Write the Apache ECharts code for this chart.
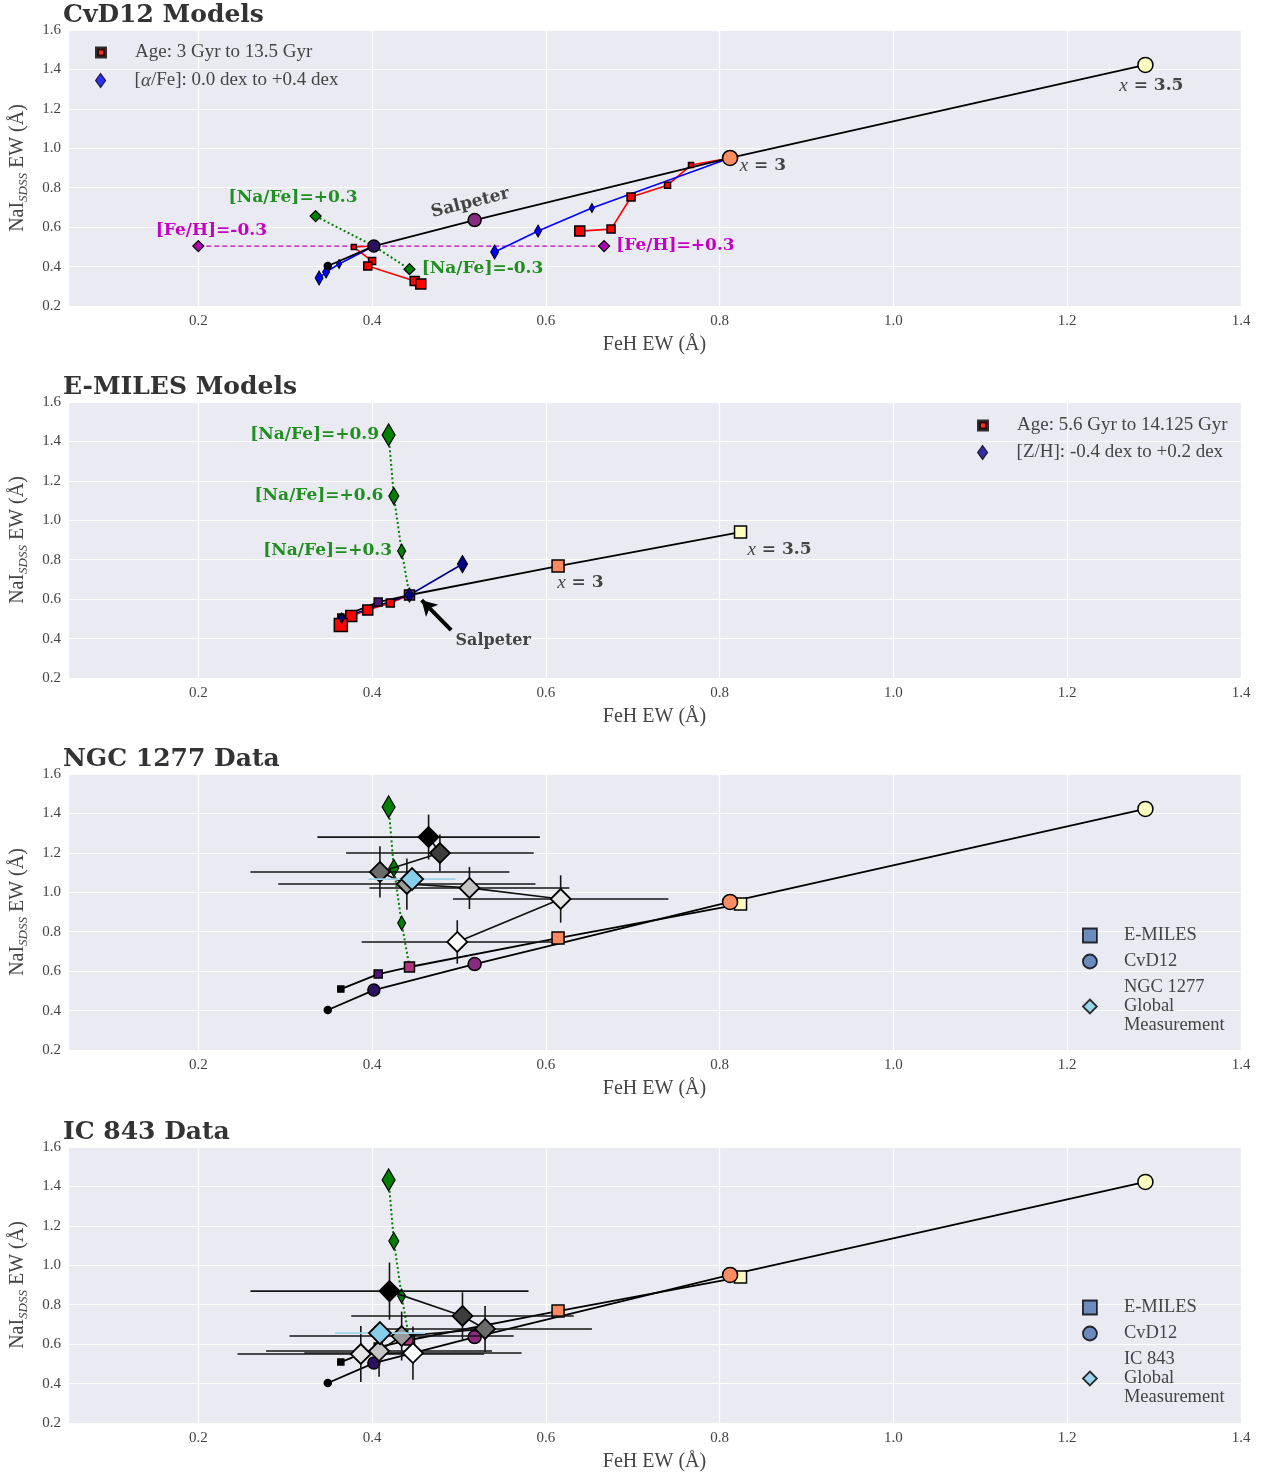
<!DOCTYPE html>
<html>
<head>
<meta charset="utf-8">
<script src="https://cdn.jsdelivr.net/npm/echarts@6/dist/echarts.min.js"></script>
<style>
  html, body { margin: 0; background: #fff; }
  #chart { width: 1268px; height: 1475px; }
</style>
</head>
<body>
<div id="chart"></div>
<script>
// ---- CvD12 model grid (FeH EW, NaI EW) ----
const cvdImfFeH = [0.349, 0.402, 0.518, 0.812, 1.290]
const cvdImfNaI = [0.403, 0.504, 0.636, 0.951, 1.423]
const cvdAgeSalFeH = [0.402, 0.379, 0.400, 0.395, 0.449, 0.456]
const cvdAgeSalNaI = [0.504, 0.499, 0.428, 0.403, 0.327, 0.312]
const cvdAgeX3FeH = [0.812, 0.767, 0.740, 0.698, 0.675, 0.639]
const cvdAgeX3NaI = [0.951, 0.915, 0.813, 0.753, 0.590, 0.580]
const cvdAlphaSalFeH = [0.402, 0.362, 0.347, 0.339]
const cvdAlphaSalNaI = [0.504, 0.413, 0.372, 0.342]
const cvdAlphaX3FeH = [0.812, 0.653, 0.591, 0.541]
const cvdAlphaX3NaI = [0.951, 0.697, 0.580, 0.474]
const cvdFeHFeH = [0.200, 0.667]
const cvdFeHNaI = [0.504, 0.504]
const cvdNaFeH = [0.335, 0.402, 0.443]
const cvdNaNaI = [0.656, 0.504, 0.387]

// ---- E-MILES model grid ----
const emImfFeH = [0.364, 0.407, 0.443, 0.614, 0.824]
const emImfNaI = [0.509, 0.585, 0.621, 0.768, 0.940]
const emAgeFeH = [0.443, 0.421, 0.395, 0.376, 0.364]
const emAgeNaI = [0.621, 0.580, 0.545, 0.514, 0.469]
const emZFeH = [0.365, 0.443, 0.504]
const emZNaI = [0.504, 0.621, 0.778]
const emNaFeH = [0.443, 0.434, 0.425, 0.419]
const emNaNaI = [0.621, 0.844, 1.123, 1.433]

// ---- NGC 1277 radial bins + global ----
const ngcFeH = [0.498, 0.617, 0.512, 0.440, 0.409, 0.478, 0.465]
const ngcFeHErr = [0.110, 0.124, 0.115, 0.148, 0.149, 0.108, 0.128]
const ngcNaI = [0.748, 0.966, 1.022, 1.042, 1.103, 1.199, 1.280]
const ngcNaIErr = [0.110, 0.120, 0.107, 0.130, 0.130, 0.094, 0.114]
const ngcGlobal = [0.446, 1.067, 0.050, 0.0]

// ---- IC 843 radial bins + global ----
const icFeH = [0.447, 0.387, 0.408, 0.434, 0.530, 0.504, 0.420]
const icFeHErr = [0.125, 0.142, 0.130, 0.129, 0.123, 0.128, 0.160]
const icNaI = [0.555, 0.550, 0.565, 0.641, 0.677, 0.743, 0.869]
const icNaIErr = [0.135, 0.142, 0.130, 0.124, 0.117, 0.120, 0.145]
const icGlobal = [0.409, 0.656, 0.052, 0.0]

// ---- annotations: [FeH, NaI, text] ----
const cvdNotes = [
  [0.309, 0.748, '[Na/Fe]=+0.3'],
  [0.457, 0.392, '[Na/Fe]=-0.3'],
  [0.215, 0.585, '[Fe/H]=-0.3'],
  [0.681, 0.504, '[Fe/H]=+0.3'],
  [0.513, 0.722, 'Salpeter'],
  [0.823, 0.910, '{i|x} = 3'],
  [1.260, 1.316, '{i|x} = 3.5'],
]
const emNotes = [
  [0.408, 1.433, '[Na/Fe]=+0.9'],
  [0.413, 1.123, '[Na/Fe]=+0.6'],
  [0.423, 0.844, '[Na/Fe]=+0.3'],
  [0.613, 0.682, '{i|x} = 3'],
  [0.832, 0.849, '{i|x} = 3.5'],
  [0.496, 0.387, 'Salpeter'],
]
const salpeterArrow = [[0.491, 0.443], [0.457, 0.595]]

const titles = ['CvD12 Models', 'E-MILES Models', 'NGC 1277 Data', 'IC 843 Data']

// ---- styles ----
const serif = 'Liberation Serif'
const bold = 'DejaVu Serif'
const GREEN = '#008000'
const LABEL_GREEN = '#1f8f1f'
const MAGENTA = '#c400c4'
const cvdFills = ['#000004', '#2c115f', '#8c2981', '#fc8d62', '#fcfdbf']
const cvdSizes = [7, 12, 13, 15, 15]
const emFills = ['#000004', '#51127c', '#b0357f', '#fc8961', '#fcfdbf']
const emSizes = [6, 8, 10, 12, 12]
const grays = ['#ffffff', '#e6e6e6', '#c4c4c4', '#9a9a9a', '#6b6b6b', '#3d3d3d', '#000000']
const tops = [30, 402, 774, 1147]

const pts = (xs, ys) => xs.map((x, k) => [x, ys[k]])

const line = (i, xs, ys, color, width, type, z) => ({
  type: 'line', xAxisIndex: i, yAxisIndex: i, data: pts(xs, ys),
  symbol: 'none', showSymbol: false, silent: true, z: z || 2,
  lineStyle: { color, width, type: type || 'solid' },
})

const marks = (i, xs, ys, symbol, sizes, fills, border, z) => ({
  type: 'scatter', xAxisIndex: i, yAxisIndex: i, symbol, silent: true, z: z || 4,
  symbolSize: (v, p) => sizes[p.dataIndex % sizes.length],
  data: pts(xs, ys).map((value, k) => ({ value, itemStyle: { color: fills[k % fills.length] } })),
  itemStyle: { borderColor: '#000', borderWidth: border || 1, opacity: 1 },
})

const errorBars = (i, xs, ys, xe, ye, color, z) => ({
  type: 'custom', xAxisIndex: i, yAxisIndex: i, silent: true, z: z || 5,
  data: xs.map((x, k) => [x, ys[k], xe[k], ye[k]]),
  encode: { x: 0, y: 1 },
  renderItem: (params, api) => {
    const x = api.value(0)
    const y = api.value(1)
    const dx = api.value(2)
    const dy = api.value(3)
    const l = api.coord([x - dx, y])
    const r = api.coord([x + dx, y])
    const t = api.coord([x, y + dy])
    const b = api.coord([x, y - dy])
    const style = { stroke: color, lineWidth: 1.6 }
    return {
      type: 'group',
      children: [
        { type: 'line', shape: { x1: l[0], y1: l[1], x2: r[0], y2: r[1] }, style },
        { type: 'line', shape: { x1: t[0], y1: t[1], x2: b[0], y2: b[1] }, style },
      ],
    }
  },
})

const notes = (i, items, styleFor, extra) => Object.assign({
  type: 'scatter', xAxisIndex: i, yAxisIndex: i, symbolSize: 0, silent: true, z: 20,
  itemStyle: { opacity: 1 },
  data: items.map(([x, y, text], k) => ({ value: [x, y], name: text, label: styleFor(k) })),
  label: {
    show: true, position: 'inside', formatter: (p) => p.name,
    fontFamily: bold, fontWeight: 'bold', fontSize: 17, color: '#444',
    rich: { i: { fontFamily: serif, fontStyle: 'italic', fontWeight: 'normal', fontSize: 19, color: '#444' } },
  },
}, extra || {})

const cvdModels = (i) => [
  line(i, cvdImfFeH, cvdImfNaI, '#000', 1.8),
  marks(i, cvdImfFeH, cvdImfNaI, 'circle', cvdSizes, cvdFills, 1.5, 6),
]
const emModels = (i) => [
  line(i, emImfFeH, emImfNaI, '#000', 1.8),
  marks(i, emImfFeH, emImfNaI, 'rect', emSizes, emFills, 1.5, 5),
]
const emSodium = (i) => [
  line(i, emNaFeH, emNaNaI, GREEN, 2, [2, 2.5], 3),
  marks(i, emNaFeH.slice(1), emNaNaI.slice(1), 'diamond', [[8, 14], [10, 17], [13, 22]], [GREEN], 1.2, 7),
]

const dataPanel = (i, xs, xe, ys, ye, glob) => [
  ...cvdModels(i),
  ...emModels(i),
  ...emSodium(i),
  errorBars(i, xs, ys, xe, ye, '#151515', 8),
  line(i, xs, ys, '#111', 1.7, 'solid', 9),
  marks(i, xs, ys, 'diamond', [20], grays, 1.8, 10),
  errorBars(i, [glob[0]], [glob[1]], [glob[2]], [glob[3]], '#9fd3ea', 11),
  marks(i, [glob[0]], [glob[1]], 'diamond', [22], ['#87ceeb'], 1.8, 12),
]

const series = [
  // panel 1: CvD12
  line(0, cvdFeHFeH, cvdFeHNaI, MAGENTA, 1.3, [5, 3], 2),
  line(0, cvdNaFeH, cvdNaNaI, GREEN, 2, [2, 2.5], 2),
  line(0, cvdAgeSalFeH, cvdAgeSalNaI, '#ff0000', 1.6),
  line(0, cvdAgeX3FeH, cvdAgeX3NaI, '#ff0000', 1.6),
  line(0, cvdAlphaSalFeH, cvdAlphaSalNaI, '#0000ff', 1.6),
  line(0, cvdAlphaX3FeH, cvdAlphaX3NaI, '#0000ff', 1.6),
  line(0, cvdImfFeH, cvdImfNaI, '#000', 1.8, 'solid', 3),
  marks(0, cvdAgeSalFeH.slice(1), cvdAgeSalNaI.slice(1), 'rect', [5, 7, 8, 9, 10], ['#ff0000'], 1.5),
  marks(0, cvdAgeX3FeH.slice(1), cvdAgeX3NaI.slice(1), 'rect', [5, 6, 8, 8, 10], ['#ff0000'], 1.5),
  marks(0, cvdAlphaSalFeH.slice(1), cvdAlphaSalNaI.slice(1), 'diamond', [[5, 9], [7, 12], [8, 14]], ['#0000ff'], 1),
  marks(0, cvdAlphaX3FeH.slice(1), cvdAlphaX3NaI.slice(1), 'diamond', [[5, 9], [7, 12], [8, 14]], ['#0000ff'], 1),
  marks(0, cvdFeHFeH, cvdFeHNaI, 'diamond', [11], ['#b000b0'], 1.2),
  marks(0, [cvdNaFeH[0], cvdNaFeH[2]], [cvdNaNaI[0], cvdNaNaI[2]], 'diamond', [11], [GREEN], 1.2),
  marks(0, cvdImfFeH, cvdImfNaI, 'circle', cvdSizes, cvdFills, 1.5, 6),
  notes(0, cvdNotes, (k) => [
    { color: LABEL_GREEN, align: 'center' },
    { color: LABEL_GREEN, align: 'left' },
    { color: MAGENTA, align: 'center' },
    { color: MAGENTA, align: 'left' },
    { color: '#444', align: 'center', rotate: 14 },
    { align: 'left' },
    { align: 'left' },
  ][k]),

  // panel 2: E-MILES
  line(1, emAgeFeH, emAgeNaI, '#ff0000', 1.6),
  line(1, emZFeH, emZNaI, '#00008b', 1.6),
  ...emModels(1),
  marks(1, emAgeFeH.slice(1), emAgeNaI.slice(1), 'rect', [8, 10, 11, 13], ['#ff0000'], 1.5, 6),
  marks(1, emZFeH, emZNaI, 'diamond', [[6, 10], [9, 14], [10, 17]], ['#00008b'], 1.2, 7),
  ...emSodium(1),
  notes(1, emNotes, (k) => [
    { color: LABEL_GREEN, align: 'right' },
    { color: LABEL_GREEN, align: 'right' },
    { color: LABEL_GREEN, align: 'right' },
    { align: 'left' },
    { align: 'left' },
    { align: 'left', fontSize: 16 },
  ][k], {
    markLine: {
      silent: true, animation: false, symbol: ['none', 'arrow'], symbolSize: [13, 15],
      lineStyle: { color: '#000', width: 4, type: 'solid' }, label: { show: false },
      data: [[{ coord: salpeterArrow[0] }, { coord: salpeterArrow[1] }]],
    },
  }),

  // panels 3, 4: data
  ...dataPanel(2, ngcFeH, ngcFeHErr, ngcNaI, ngcNaIErr, ngcGlobal),
  ...dataPanel(3, icFeH, icFeHErr, icNaI, icNaIErr, icGlobal),
]

// legend-only series (no data)
const legendNames = [
  'Age: 3 Gyr to 13.5 Gyr', '[α/Fe]: 0.0 dex to +0.4 dex',
  'Age: 5.6 Gyr to 14.125 Gyr', '[Z/H]: -0.4 dex to +0.2 dex',
  'E-MILES', 'CvD12', 'NGC 1277\nGlobal\nMeasurement', 'IC 843\nGlobal\nMeasurement',
]
legendNames.forEach((name) => series.push({ type: 'scatter', name, data: [] }))

const SQUARE = 'path://M0,0L13,0L13,13L0,13Z'
const SMALL_SQUARE = 'path://M0,0L8,0L8,8L0,8Z'
const CIRCLE = 'path://M0,6.5A6.5,6.5,0,1,1,13,6.5A6.5,6.5,0,1,1,0,6.5Z'
const THIN = 'path://M5,0L10,7L5,14L0,7Z'
const RHOMB = 'path://M7,0L14,7L7,14L0,7Z'

const legendText = {
  fontFamily: serif, fontSize: 19, color: '#444', lineHeight: 19,
  rich: { i: { fontFamily: serif, fontStyle: 'italic', fontSize: 19, color: '#444' } },
}
const legendBase = {
  orient: 'vertical', padding: 0, itemWidth: 58, itemHeight: 14, selectedMode: false,
  symbolKeepAspect: true, textStyle: legendText,
  formatter: (name) => name.replace('α', '{i|α}'),
}
// one-row legends so the age square can be smaller than the diamond
const rowLegend = (left, top, item, h) => Object.assign({}, legendBase, {
  left, top, itemHeight: h, data: [item],
})
const ageItem = (name) => ({
  name, icon: SMALL_SQUARE, itemStyle: { color: '#ff0000', borderColor: '#000', borderWidth: 4 },
})
const thinItem = (name, color) => ({
  name, icon: THIN, itemStyle: { color, borderColor: '#000', borderWidth: 1.2 },
})
const dataLegend = (top, name) => Object.assign({}, legendBase, {
  left: 1082, top, itemGap: 7,
  textStyle: Object.assign({}, legendText, { fontSize: 18.5 }),
  data: [
    { name: 'E-MILES', icon: SQUARE, itemStyle: { color: '#4c72b0', borderColor: '#000', borderWidth: 1.8 } },
    { name: 'CvD12', icon: CIRCLE, itemStyle: { color: '#4c72b0', borderColor: '#000', borderWidth: 1.8 } },
    { name, icon: RHOMB, itemStyle: { color: '#87ceeb', borderColor: '#000', borderWidth: 1.8 } },
  ],
})

const option = {
  animation: false,
  backgroundColor: '#fff',
  title: titles.map((text, i) => ({
    text, left: 63, top: tops[i] - 27, padding: 0,
    textStyle: { fontFamily: bold, fontWeight: 'bold', fontSize: 25, color: '#333' },
  })),
  legend: [
    rowLegend(95, 43, ageItem('Age: 3 Gyr to 13.5 Gyr'), 8),
    rowLegend(95, 71, thinItem('[α/Fe]: 0.0 dex to +0.4 dex', '#0000ff'), 14),
    rowLegend(977, 416, ageItem('Age: 5.6 Gyr to 14.125 Gyr'), 8),
    rowLegend(977, 443, thinItem('[Z/H]: -0.4 dex to +0.2 dex', '#00008b'), 14),
    dataLegend(926, 'NGC 1277\nGlobal\nMeasurement'),
    dataLegend(1298, 'IC 843\nGlobal\nMeasurement'),
  ],
  grid: tops.map((top) => ({
    left: 65, right: 27, top, height: 276, show: true, backgroundColor: '#eaeaf2', borderWidth: 0,
  })),
  xAxis: tops.map((_, i) => ({
    type: 'value', gridIndex: i, min: 0.05, max: 1.4, minInterval: 0.2, maxInterval: 0.2,
    name: 'FeH EW (Å)', nameLocation: 'middle', nameGap: 29,
    nameTextStyle: { fontFamily: serif, fontSize: 20, color: '#444' },
    axisLine: { show: false }, axisTick: { show: false },
    axisLabel: {
      showMinLabel: false, margin: 8, fontFamily: serif, fontSize: 15, color: '#444',
      formatter: (v) => v.toFixed(1),
    },
    splitLine: { lineStyle: { color: '#fff', width: 1.2 } },
  })),
  yAxis: tops.map((_, i) => ({
    type: 'value', gridIndex: i, min: 0.2, max: 1.6, interval: 0.2,
    name: '{a|NaI}{s|SDSS}{a| EW (Å)}', nameLocation: 'middle', nameGap: 38, nameRotate: 90,
    nameTextStyle: {
      fontFamily: serif, fontSize: 20, color: '#444',
      rich: {
        a: { fontFamily: serif, fontSize: 20, color: '#444', lineHeight: 24 },
        s: { fontFamily: serif, fontSize: 13, fontStyle: 'italic', color: '#444', lineHeight: 14, verticalAlign: 'bottom' },
      },
    },
    axisLine: { show: false }, axisTick: { show: false },
    axisLabel: { margin: 7, fontFamily: serif, fontSize: 15, color: '#444', formatter: (v) => v.toFixed(1) },
    splitLine: { lineStyle: { color: '#fff', width: 1.2 } },
  })),
  series,
}

const chart = echarts.init(document.getElementById('chart'))
chart.setOption(option)
</script>
</body>
</html>
